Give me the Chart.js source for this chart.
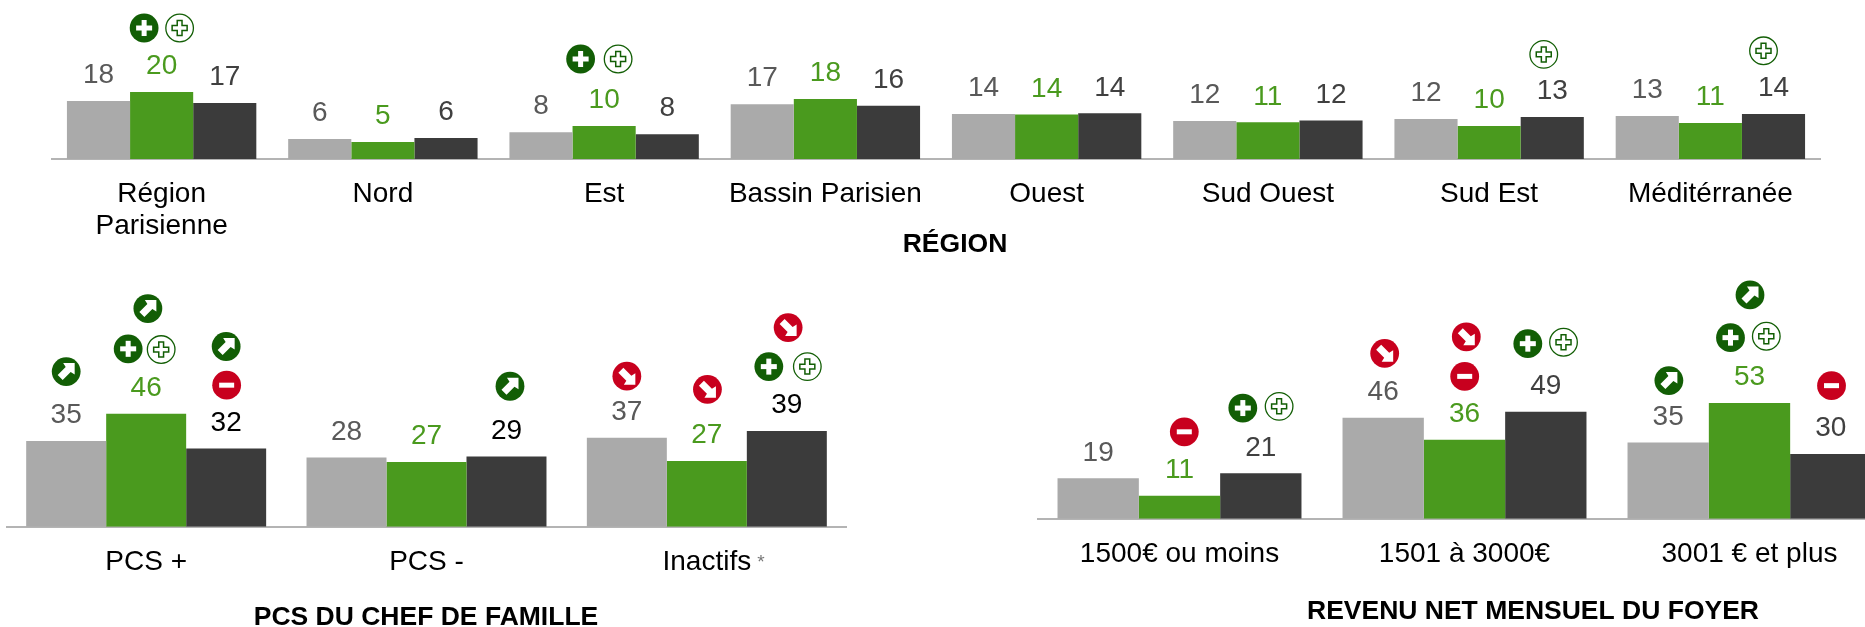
<!DOCTYPE html>
<html lang="fr"><head><meta charset="utf-8">
<script src="https://cdn.jsdelivr.net/npm/chart.js@4"></script>
<style>
html,body{margin:0;padding:0;background:#fff;overflow:hidden;width:1865px;height:627px}
canvas{position:absolute}
</style></head><body>
<canvas id="c1" style="left:51px;top:0"></canvas>
<canvas id="c2" style="left:6px;top:280px"></canvas>
<canvas id="c3" style="left:1037px;top:270px"></canvas>
<script>
const regionCats = [["Région","Parisienne"],"Nord","Est","Bassin Parisien","Ouest","Sud Ouest","Sud Est","Méditérranée"];
const regionGrey = [17.6,6.06,8.1,16.6,13.6,11.5,12.1,13.0];
const regionGreen = [20.3,5.15,10,18.2,13.5,11.1,10,10.9];
const regionDark = [17,6.4,7.5,16.1,13.85,11.7,12.7,13.6];

const pcsCats = ["PCS +","PCS -","Inactifs"];
const pcsGrey = [35.2,28.4,36.5];
const pcsGreen = [46.3,26.6,27];
const pcsDark = [32.1,28.8,39.3];

const revCats = ["1500€ ou moins","1501 à 3000€","3001 € et plus"];
const revGrey = [18.5,46.3,34.9];
const revGreen = [10.5,36.2,53.1];
const revDark = [20.8,49.1,29.7];

// Significance marks: [category, series, kind, dx, dy] relative to the bar's top centre
const regionMarks = [
 [0,1,'plus',-17.5,-64],[0,1,'ring',18,-64],
 [2,1,'plus',-23.5,-67],[2,1,'ring',14,-67],
 [6,2,'ring',-8.5,-62.7],[7,2,'ring',-10,-63.3]];
const pcsMarks = [
 [0,0,'up',0,-69.3],
 [0,1,'up',1.7,-105.3],[0,1,'plus',-18,-65],[0,1,'ring',15,-64.3],
 [0,2,'up',0,-102],[0,2,'minus',0.5,-63.3],
 [1,2,'up',3.5,-70.3],
 [2,0,'down',0,-61.6],[2,1,'down',0.6,-71.6],
 [2,2,'down',1.3,-103.3],[2,2,'plus',-18,-64.3],[2,2,'ring',20.5,-64.3]];
const revMarks = [
 [0,1,'minus',4.8,-64],[0,2,'plus',-18,-65.3],[0,2,'ring',18.3,-67],
 [1,0,'down',1.5,-64.4],[1,1,'down',1.8,-103],[1,1,'minus',0.2,-63.4],
 [1,2,'plus',-18,-68],[1,2,'ring',17.7,-69.4],
 [2,0,'up',0.7,-62],[2,1,'up',0.5,-108],[2,1,'plus',-19,-65.3],[2,1,'ring',16.8,-66.7],
 [2,2,'minus',0.7,-68.3]];

const GREY='#aaaaaa', GREEN='#4a9a1e', DARK='#3b3b3b', DKGREEN='#125e05', RED='#c8001e';
const FONT='"Liberation Sans", Arial, sans-serif';

function drawMark(ctx,kind,x,y){
  const r=14.4;
  ctx.save(); ctx.translate(x,y);
  const disc=c=>{ctx.beginPath();ctx.arc(0,0,r,0,Math.PI*2);ctx.fillStyle=c;ctx.fill();};
  if(kind==='plus'){
    disc(DKGREEN); ctx.fillStyle='#fff';
    ctx.fillRect(-8,-2.5,16,5); ctx.fillRect(-2.5,-8,5,16);
  } else if(kind==='minus'){
    disc(RED); ctx.fillStyle='#fff'; ctx.fillRect(-7.5,-2.5,15,5);
  } else if(kind==='ring'){
    ctx.beginPath();ctx.arc(0,0,r-0.6,0,Math.PI*2);ctx.lineWidth=1.3;ctx.strokeStyle=DKGREEN;ctx.stroke();
    const a=2.4,b=7.5;
    ctx.beginPath();
    [[-a,-b],[a,-b],[a,-a],[b,-a],[b,a],[a,a],[a,b],[-a,b],[-a,a],[-b,a],[-b,-a],[-a,-a]]
      .forEach((p,i)=>i?ctx.lineTo(p[0],p[1]):ctx.moveTo(p[0],p[1]));
    ctx.closePath();ctx.lineWidth=1.5;ctx.strokeStyle=DKGREEN;ctx.stroke();
  } else {
    disc(kind==='up'?DKGREEN:RED);
    if(kind==='down') ctx.scale(1,-1);
    ctx.fillStyle='#fff';
    ctx.beginPath();
    [[-3,-8.5],[8.5,-8.5],[8.5,3],[4.5,0.5],[-3.5,8.5],[-8.5,3.5],[-0.5,-4.5]]
      .forEach((p,i)=>i?ctx.lineTo(p[0],p[1]):ctx.moveTo(p[0],p[1]));
    ctx.closePath();ctx.fill();
  }
  ctx.restore();
}

const overlay={
  id:'overlay',
  afterDatasetsDraw(chart){
    const o=chart.options.plugins.overlay, ctx=chart.ctx;
    ctx.save();
    ctx.textAlign='center';ctx.textBaseline='middle';ctx.font='28px '+FONT;
    chart.data.datasets.forEach((ds,s)=>{
      const meta=chart.getDatasetMeta(s);
      meta.data.forEach((bar,i)=>{
        ctx.fillStyle=o.labelColors[s];
        ctx.fillText(String(Math.round(ds.data[i])),bar.x,bar.y-25.5);
      });
    });
    o.marks.forEach(m=>{
      const bar=chart.getDatasetMeta(m[1]).data[m[0]];
      drawMark(ctx,m[2],bar.x+m[3],bar.y+m[4]);
    });
    ctx.font='bold 26.5px '+FONT;ctx.fillStyle='#000';
    ctx.fillText(o.title,o.titleX,o.titleY);
    if(o.note){
      ctx.font='19px '+FONT;ctx.fillStyle='#777';
      const xs=chart.scales.x;
      ctx.fillText(o.note.text,xs.getPixelForValue(o.note.index)+o.note.dx,o.note.y);
    }
    ctx.restore();
  }
};

function makeChart(id,w,h,cats,grey,green,dark,yMax,padTop,axisH,over){
  const cv=document.getElementById(id);
  cv.width=w;cv.height=h;cv.style.width=w+'px';cv.style.height=h+'px';
  return new Chart(cv,{
    type:'bar',
    data:{labels:cats,datasets:[
      {label:'Série 1',data:grey,backgroundColor:GREY},
      {label:'Série 2',data:green,backgroundColor:GREEN},
      {label:'Série 3',data:dark,backgroundColor:DARK}]},
    plugins:[overlay],
    options:{
      responsive:false,animation:false,devicePixelRatio:1,
      layout:{padding:{top:padTop,left:0,right:0,bottom:0}},
      datasets:{bar:{barPercentage:1,categoryPercentage:0.856,borderWidth:0}},
      plugins:{legend:{display:false},tooltip:{enabled:false},overlay:over},
      scales:{
        y:{display:false,min:0,max:yMax},
        x:{
          grid:{display:false,drawTicks:false},
          border:{display:true,color:'#b4b4b4',width:2},
          ticks:{color:'#000',padding:19,autoSkip:false,maxRotation:0,minRotation:0,
                 font:{family:FONT,size:28,lineHeight:1.15}},
          afterFit(s){s.height=axisH;s.paddingLeft=0;s.paddingRight=0;}
        }
      }
    }
  });
}

makeChart('c1',1770,260,regionCats,regionGrey,regionGreen,regionDark,48,0.6,101,
  {labelColors:['#595959',GREEN,'#404040'],marks:regionMarks,title:'RÉGION',titleX:955-51,titleY:245});
makeChart('c2',841,347,pcsCats,pcsGrey,pcsGreen,pcsDark,100,2.8,100.2,
  {labelColors:['#595959',GREEN,'#000000'],marks:pcsMarks,title:'PCS DU CHEF DE FAMILLE',titleX:426-6,titleY:338,
   note:{text:'*',index:2,dx:54,y:283}});
makeChart('c3',855,357,revCats,revGrey,revGreen,revDark,100,30.7,108.3,
  {labelColors:['#595959',GREEN,'#404040'],marks:revMarks,title:'REVENU NET MENSUEL DU FOYER',titleX:1533-1037,titleY:342});
</script>
</body></html>
